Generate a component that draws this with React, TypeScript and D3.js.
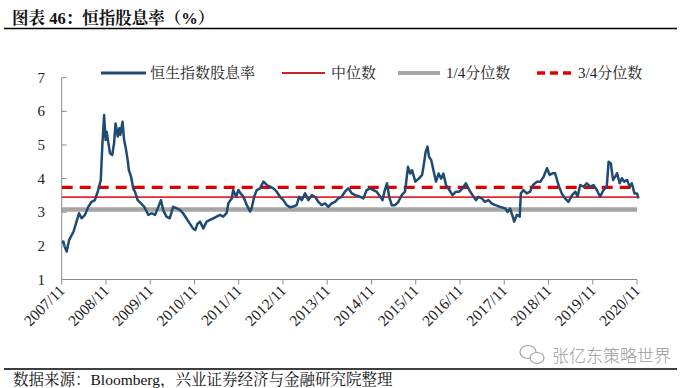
import React from "react";
import * as d3 from "d3";

// Months since 2007/11 (fractional) and HSI dividend yield (%)
const monthOffsets = [
  0, 0.45, 0.9, 1.36, 2.0, 2.6, 3.2, 3.7, 4.1, 4.7, 5.4, 6.3, 7.2, 8.1, 9.0, 9.9, 10.6, 11.0, 11.5, 11.9,
  12.2, 12.6, 13.1, 13.7, 14.2, 14.6, 15.2, 15.6, 15.9, 16.5, 16.9, 17.3, 17.9, 18.2, 18.8, 19.4, 19.9, 20.6, 21.5, 22.4,
  23.5, 24.4, 25.3, 26.2, 26.9, 27.5, 28.4, 29.3, 30.2, 31.1, 32.0, 32.9, 33.8, 34.7, 35.6, 36.2, 36.8, 37.5, 38.4, 39.3,
  40.2, 41.1, 42.0, 42.9, 43.8, 44.7, 45.2, 46.1, 46.5, 47.3, 47.9, 48.5, 49.3, 50.2, 51.1, 51.5, 52.2, 52.9, 53.8, 54.7,
  55.6, 56.5, 57.4, 58.3, 59.2, 60.1, 61.0, 61.9, 62.8, 63.7, 64.4, 65.1, 66.0, 66.9, 67.8, 68.7, 69.6, 70.5, 71.4, 72.3,
  73.2, 74.1, 75.0, 75.9, 76.8, 77.7, 78.7, 79.6, 80.9, 81.8, 82.7, 83.6, 84.5, 85.4, 86.4, 87.0, 87.5, 88.2, 88.8, 89.5,
  90.4, 91.3, 92.2, 93.1, 93.9, 94.5, 95.0, 95.9, 96.8, 97.7, 98.1, 98.7, 99.2, 99.6, 100.2, 100.8, 101.5, 102.2, 102.9, 103.5,
  104.2, 105.1, 106.0, 106.9, 107.8, 108.7, 109.6, 110.5, 111.4, 112.3, 113.0, 113.9, 114.8, 115.7, 116.6, 117.6, 118.9, 120.3, 120.9, 121.6,
  122.3, 122.7, 123.4, 124.2, 124.5, 125.2, 126.1, 127.0, 127.8, 128.9, 129.8, 130.7, 131.6, 132.3, 133.2, 133.8, 134.7, 135.6, 136.5, 137.4,
  138.4, 139.3, 139.9, 140.6, 141.5, 142.4, 143.3, 144.2, 145.1, 146.0, 146.9, 147.8, 148.3, 148.9, 149.5, 150.1, 150.6, 151.3, 151.9, 152.5,
  153.3, 154.0, 154.6, 155.3, 156.0, 156.4,
];
const yieldValues = [
  2.08, 2.13, 1.95, 1.83, 2.17, 2.3, 2.42, 2.6, 2.75, 2.97, 2.82, 2.92, 3.16, 3.31, 3.36, 3.66, 3.96, 4.95, 5.89, 5.15,
  5.39, 5.1, 4.75, 4.7, 5.05, 5.64, 5.25, 5.5, 5.3, 5.69, 5.16, 4.95, 4.55, 4.26, 4.06, 3.71, 3.6, 3.36, 3.26, 3.16,
  2.92, 2.97, 2.92, 3.16, 3.36, 3.07, 2.87, 2.82, 3.16, 3.12, 3.07, 2.97, 2.82, 2.67, 2.52, 2.47, 2.65, 2.72, 2.52, 2.72,
  2.77, 2.82, 2.87, 2.92, 2.87, 2.97, 3.27, 3.41, 3.66, 3.46, 3.66, 3.56, 3.46, 3.21, 3.02, 3.12, 3.46, 3.66, 3.71, 3.91,
  3.81, 3.76, 3.71, 3.61, 3.46, 3.36, 3.21, 3.15, 3.17, 3.21, 3.46, 3.36, 3.56, 3.36, 3.51, 3.46, 3.31, 3.21, 3.26, 3.16,
  3.26, 3.31, 3.41, 3.46, 3.61, 3.71, 3.56, 3.51, 3.46, 3.41, 3.66, 3.71, 3.66, 3.61, 3.46, 3.36, 3.61, 3.86, 3.46, 3.21,
  3.21, 3.31, 3.51, 3.61, 4.35, 4.15, 4.25, 3.91, 4.0, 4.1, 4.35, 4.8, 4.95, 4.65, 4.55, 4.25, 3.91, 4.15, 4.0, 4.15,
  3.81, 3.66, 3.51, 3.61, 3.61, 3.71, 3.86, 3.66, 3.51, 3.36, 3.46, 3.41, 3.31, 3.36, 3.26, 3.21, 3.16, 3.11, 3.01, 3.11,
  2.87, 2.72, 2.92, 2.87, 3.56, 3.66, 3.56, 3.61, 3.81, 3.91, 3.91, 4.06, 4.31, 4.11, 4.16, 4.16, 3.81, 3.56, 3.41, 3.31,
  3.51, 3.61, 3.46, 3.81, 3.76, 3.86, 3.76, 3.81, 3.66, 3.46, 3.66, 3.76, 4.5, 4.45, 3.96, 4.06, 4.16, 3.86, 4.01, 3.91,
  3.96, 3.76, 3.86, 3.56, 3.56, 3.41,
];

const tickLabels = [
  "2007/11", "2008/11", "2009/11", "2010/11", "2011/11", "2012/11", "2013/11",
  "2014/11", "2015/11", "2016/11", "2017/11", "2018/11", "2019/11", "2020/11",
];
const yTicks = [1, 2, 3, 4, 5, 6, 7];
const medianValue = 3.45;
const q1Value = 3.08;
const q3Value = 3.74;
const legendLabels = ["恒生指数股息率", "中位数", "1/4分位数", "3/4分位数"];

const SERIF = "'Liberation Serif', 'Times New Roman', 'Noto Serif CJK SC', 'Noto Sans CJK SC', serif";

export default function App() {
  const x = d3.scaleLinear().domain([0, 156]).range([61.7, 637]);
  const y = d3.scaleLinear().domain([1, 7]).range([279.5, 77.7]);
  const data = monthOffsets.map((m, i) => [m, yieldValues[i]] as [number, number]);
  const line = d3
    .line<[number, number]>()
    .x((d) => x(d[0]))
    .y((d) => y(d[1]))
    .curve(d3.curveLinear);

  const x0 = x(0);
  const x1 = x(156);

  const legendItems = [
    { lx: 101, lw: 45, tx: 150, stroke: "#1F4B73", sw: 3, dash: undefined },
    { lx: 282, lw: 43, tx: 331, stroke: "#C8232B", sw: 2, dash: undefined },
    { lx: 398, lw: 42, tx: 446, stroke: "#A6A6A6", sw: 4, dash: undefined },
    { lx: 537, lw: 38, tx: 578, stroke: "#E00000", sw: 3.5, dash: "8,5" },
  ];

  return (
    <svg
      width={690}
      height={388}
      style={{ position: "fixed", left: 0, top: 0, background: "#fff" }}
    >
      <rect x={0} y={0} width={690} height={388} fill="#fff" />
      {/* Title */}
      <text x={12} y={24} fontFamily={SERIF} fontSize={16.5} fontWeight="bold" fill="#111">
        图表 46：恒指股息率（%）
      </text>
      <line x1={4} x2={677} y1={28.5} y2={28.5} stroke="#000" strokeWidth={1.5} />

      {/* Reference lines */}
      <line x1={x0} x2={x1} y1={y(q1Value)} y2={y(q1Value)} stroke="#A6A6A6" strokeWidth={4.5} />
      <line x1={x0} x2={x1} y1={y(medianValue)} y2={y(medianValue)} stroke="#E8262C" strokeWidth={1.6} />
      <line
        x1={x0}
        x2={x1}
        y1={y(q3Value)}
        y2={y(q3Value)}
        stroke="#E00000"
        strokeWidth={3.2}
        strokeDasharray="11,7"
      />

      {/* Series */}
      <path d={line(data) || ""} fill="none" stroke="#1F4B73" strokeWidth={2.5} strokeLinejoin="round" />

      {/* Y axis */}
      <line x1={x0} x2={x0} y1={y(7)} y2={y(1)} stroke="#8C8C8C" strokeWidth={1} />
      {yTicks.map((t) => (
        <g key={t}>
          <line x1={x0} x2={x0 + 5} y1={y(t)} y2={y(t)} stroke="#8C8C8C" strokeWidth={1} />
          <text
            x={45}
            y={y(t) + 5}
            textAnchor="end"
            fontFamily={SERIF}
            fontSize={15}
            fill="#222"
          >
            {t}
          </text>
        </g>
      ))}

      {/* X axis */}
      <line x1={x0} x2={x1} y1={y(1)} y2={y(1)} stroke="#8C8C8C" strokeWidth={1} />
      {tickLabels.map((lab, i) => {
        const tx = x(i * 12);
        return (
          <g key={lab}>
            <line x1={tx} x2={tx} y1={y(1)} y2={y(1) + 5} stroke="#8C8C8C" strokeWidth={1} />
            <text
              transform={`translate(${tx + 4},${y(1) + 12}) rotate(-45)`}
              textAnchor="end"
              fontFamily={SERIF}
              fontSize={15.5}
              fill="#222"
            >
              {lab}
            </text>
          </g>
        );
      })}

      {/* Legend */}
      {legendItems.map((it, i) => (
        <g key={i}>
          <line
            x1={it.lx}
            x2={it.lx + it.lw}
            y1={73}
            y2={73}
            stroke={it.stroke}
            strokeWidth={it.sw}
            strokeDasharray={it.dash}
          />
          <text x={it.tx} y={78} fontFamily={SERIF} fontSize={15} fill="#222">
            {legendLabels[i]}
          </text>
        </g>
      ))}

      {/* Watermark */}
      <g stroke="#A0A0A0" fill="none" strokeWidth={1.2}>
        <ellipse cx={528} cy={352} rx={8} ry={6.5} />
        <ellipse cx={537} cy={358} rx={7} ry={5.5} fill="#fff" />
      </g>
      <text x={552} y={362} fontFamily="'Noto Sans CJK SC', sans-serif" fontSize={17} fontWeight={300} fill="#9A9A9A">
        张亿东策略世界
      </text>

      {/* Footer */}
      <line x1={4} x2={677} y1={369} y2={369} stroke="#000" strokeWidth={1.5} />
      <text x={13} y={385} fontFamily={SERIF} fontSize={15.5} fill="#111">
        数据来源：Bloomberg，兴业证券经济与金融研究院整理
      </text>
    </svg>
  );
}
